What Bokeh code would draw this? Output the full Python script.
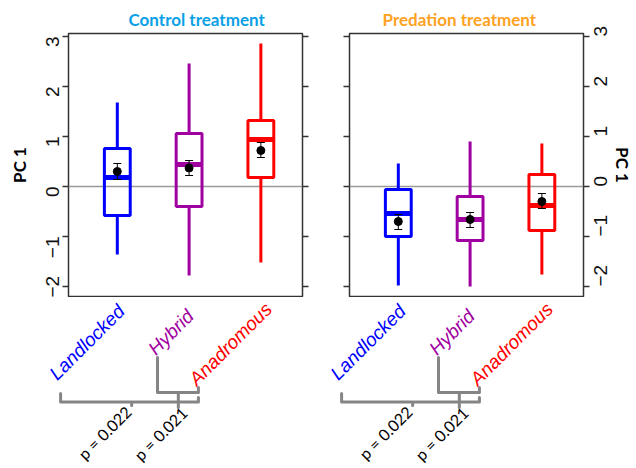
import math
from bokeh.plotting import figure
from bokeh.models import (ColumnDataSource, LinearAxis, FixedTicker, Span, Label,
                          Whisker, TeeHead, Range1d, Title, CustomJSTickFormatter)
from bokeh.layouts import row, column
from bokeh.embed import file_html
from bokeh.resources import INLINE

# ---------------- data ----------------
groups = ["Landlocked", "Hybrid", "Anadromous"]
group_colors = ["#0000FF", "#A000A0", "#FF0000"]

ctrl_whisker_low = [-1.36, -1.78, -1.52]
ctrl_q1 = [-0.58, -0.40, 0.18]
ctrl_median = [0.18, 0.44, 0.94]
ctrl_q3 = [0.76, 1.06, 1.32]
ctrl_whisker_high = [1.68, 2.46, 2.86]
ctrl_mean = [0.30, 0.37, 0.72]
ctrl_se_low = [0.14, 0.22, 0.58]
ctrl_se_high = [0.46, 0.52, 0.88]

pred_whisker_low = [-1.98, -2.00, -1.76]
pred_q1 = [-1.00, -1.08, -0.88]
pred_median = [-0.54, -0.66, -0.38]
pred_q3 = [-0.06, -0.20, 0.24]
pred_whisker_high = [0.46, 0.90, 0.86]
pred_mean = [-0.70, -0.66, -0.30]
pred_se_low = [-0.86, -0.82, -0.44]
pred_se_high = [-0.56, -0.52, -0.14]

y_ticks = [-2, -1, 0, 1, 2, 3]
p_values = ["p = 0.022", "p = 0.021"]   # Landlocked-Anadromous, Hybrid-Anadromous

# ---------------- layout constants ----------------
TOP = 33
FRAME_W = 234
FRAME_H = 263
GAP = 1
H_TOP = TOP + FRAME_H + GAP
H_BOT = 468 - H_TOP
X_RANGE = (0.32, 3.58)
Y_RANGE = (-2.2, 3.06)
BOX_W = 0.36
AX_COLOR = "#333333"
BRACE_COLOR = "#858585"
TICK_FONT = "Liberation Sans"
PPX = FRAME_W / (X_RANGE[1] - X_RANGE[0])
PPY = FRAME_H / (Y_RANGE[1] - Y_RANGE[0])


def style_axis(ax, show_labels, standoff):
    ax.ticker = FixedTicker(ticks=y_ticks)
    ax.minor_tick_line_color = None
    ax.axis_line_color = None
    ax.major_tick_in = 0
    ax.major_tick_out = 6
    ax.major_tick_line_color = AX_COLOR
    ax.major_tick_line_width = 1.5
    ax.major_label_orientation = math.pi / 2
    ax.major_label_standoff = standoff
    ax.major_label_text_font = TICK_FONT
    ax.major_label_text_color = "#111111"
    if show_labels:
        ax.major_label_text_font_size = "19px"
    else:
        ax.formatter = CustomJSTickFormatter(code="return '';")
        ax.major_label_text_font_size = "1px"
    ax.axis_label_text_font = "Lato"
    ax.axis_label_text_font_style = "bold"
    ax.axis_label_text_font_size = "17px"
    ax.axis_label_text_color = "black"


def make_panel(title, tcolor, title_offset, wl, q1, med, q3, wh, mean, sel, seh,
               width, mbl, mbr, label_side):
    p = figure(width=width, height=H_TOP, x_range=Range1d(*X_RANGE), y_range=Range1d(*Y_RANGE),
               output_backend="svg", toolbar_location=None, title=None,
               x_axis_location=None, y_axis_location=None,
               min_border_left=mbl, min_border_right=mbr, min_border_top=TOP,
               min_border_bottom=GAP)
    p.grid.visible = False
    p.outline_line_color = AX_COLOR
    p.outline_line_width = 1.5
    p.background_fill_color = "white"
    p.border_fill_color = "white"

    p.add_layout(Title(text=title, align="left", offset=title_offset, standoff=7,
                       text_font="Lato", text_font_style="bold", text_font_size="17px",
                       text_color=tcolor), "above")

    left_ax = LinearAxis()
    right_ax = LinearAxis()
    if label_side == "left":
        style_axis(left_ax, True, 10)
        left_ax.axis_label = "PC 1"
        left_ax.axis_label_standoff = 7
        style_axis(right_ax, False, 2)
    else:
        style_axis(left_ax, False, 2)
        style_axis(right_ax, True, 11)
        right_ax.axis_label = "PC 1"
        right_ax.axis_label_standoff = -5
    p.add_layout(left_ax, "left")
    p.add_layout(right_ax, "right")

    p.add_layout(Span(location=0, dimension="width", line_color="#9a9a9a",
                      line_width=1.5, level="underlay"))

    xs = [1, 2, 3]
    src = ColumnDataSource(dict(
        x=xs, left=[x - BOX_W / 2 for x in xs], right=[x + BOX_W / 2 for x in xs],
        wl=wl, q1=q1, med=med, q3=q3, wh=wh, mean=mean, sel=sel, seh=seh,
        color=group_colors))

    p.segment(x0="x", y0="q3", x1="x", y1="wh", line_color="color", line_width=3, source=src)
    p.segment(x0="x", y0="q1", x1="x", y1="wl", line_color="color", line_width=3, source=src)
    p.quad(left="left", right="right", bottom="q1", top="q3", fill_color=None,
           line_color="color", line_width=3, source=src)
    p.segment(x0="left", y0="med", x1="right", y1="med", line_color="color",
              line_width=5, source=src)
    p.add_layout(Whisker(source=src, base="x", lower="sel", upper="seh",
                         line_color="black", line_width=1, level="annotation",
                         upper_head=TeeHead(size=8, line_width=1, line_color="black"),
                         lower_head=TeeHead(size=8, line_width=1, line_color="black")))
    p.scatter(x="x", y="mean", size=8, color="black", source=src)
    return p


def make_bottom(width, mbl, mbr):
    x0 = X_RANGE[0] - mbl / PPX
    x1 = X_RANGE[1] + mbr / PPX
    ytop = Y_RANGE[0] - GAP / PPY
    ybot = ytop - H_BOT / PPY
    b = figure(width=width, height=H_BOT, x_range=Range1d(x0, x1), y_range=Range1d(ybot, ytop),
               output_backend="svg", toolbar_location=None, title=None,
               x_axis_location=None, y_axis_location=None,
               min_border_left=0, min_border_right=0, min_border_top=0, min_border_bottom=0)
    b.grid.visible = False
    b.outline_line_color = None
    b.background_fill_color = "white"
    b.border_fill_color = "white"

    # category labels
    lab_dx = [-0.046, -0.086, 0.004]
    lab_y = [-2.28, -2.38, -2.24]
    for i, g in enumerate(groups):
        b.add_layout(Label(x=i + 1 + lab_dx[i], y=lab_y[i], text=g, angle=45,
                           angle_units="deg", text_align="right", text_baseline="top",
                           text_font=TICK_FONT, text_font_style="italic",
                           text_font_size="19px", text_color=group_colors[i]))

    # braces: Landlocked-Anadromous (big), Hybrid-Anadromous (small)
    bl, bt, br = 0.21, 1.20, 2.13
    sl, st, sr = 1.56, 1.85, 2.13
    b.multi_line(xs=[[bl, bl, bt, bt, bt, br, br],
                     [sl, sl, st, st, st, sr, sr]],
                 ys=[[-4.14, -4.31, -4.31, -4.38, -4.31, -4.31, -4.22],
                     [-3.42, -4.12, -4.12, -4.42, -4.12, -4.12, -4.02]],
                 line_color=BRACE_COLOR, line_width=3, line_join="round", line_cap="round")

    b.add_layout(Label(x=1.06, y=-4.31, text=p_values[0], angle=45, angle_units="deg",
                       text_align="right", text_baseline="top", text_font="Lato",
                       text_font_size="16px", text_color="black"))
    b.add_layout(Label(x=1.84, y=-4.33, text=p_values[1], angle=45, angle_units="deg",
                       text_align="right", text_baseline="top", text_font="Lato",
                       text_font_size="16px", text_color="black"))
    return b


p1 = make_panel("Control treatment", "#0AA0E6", 60,
                ctrl_whisker_low, ctrl_q1, ctrl_median, ctrl_q3, ctrl_whisker_high,
                ctrl_mean, ctrl_se_low, ctrl_se_high, 325, 68, 23, "left")
p2 = make_panel("Predation treatment", "#FFA21F", 33,
                pred_whisker_low, pred_q1, pred_median, pred_q3, pred_whisker_high,
                pred_mean, pred_se_low, pred_se_high, 311, 24, 53, "right")
b1 = make_bottom(325, 68, 23)
b2 = make_bottom(311, 24, 53)

layout = column(row(p1, p2), row(b1, b2))
open("out.html", "w").write(file_html(layout, INLINE))
